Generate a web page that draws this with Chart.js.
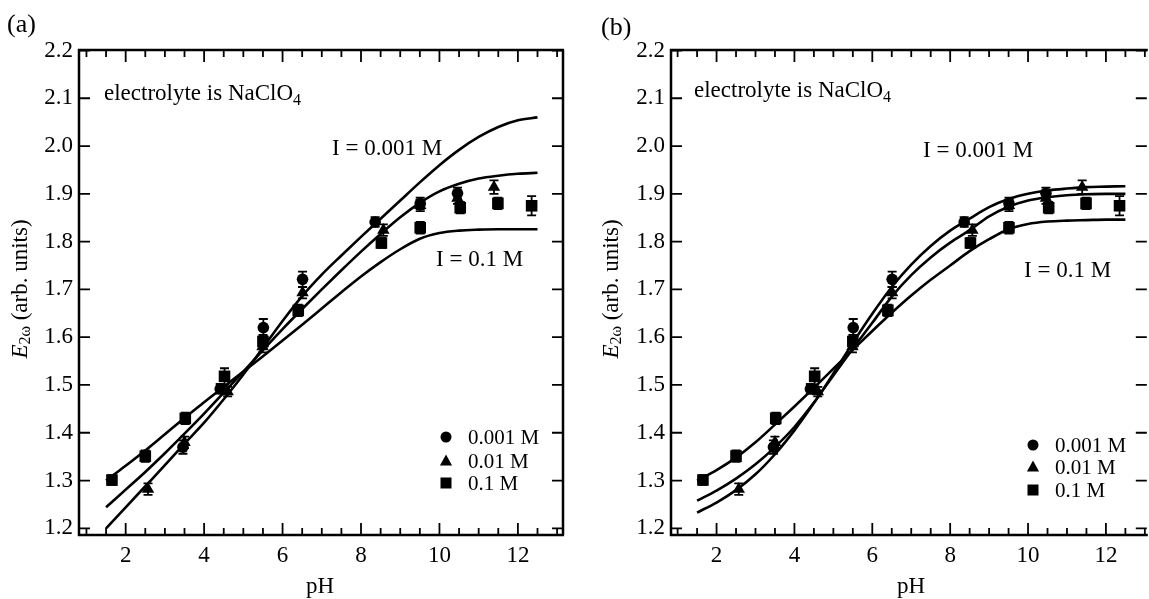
<!DOCTYPE html>
<html>
<head>
<meta charset="utf-8">
<script src="https://cdn.jsdelivr.net/npm/chart.js@4.4.0/dist/chart.umd.min.js"></script>
<style>
html, body { margin: 0; padding: 0; background: #fff; overflow: hidden; width: 1149px; height: 599px; }
.panel { position: absolute; top: 0; height: 599px; overflow: hidden; }
</style>
</head>
<body>
<div class="panel" style="left:0px;width:575px"><canvas id="chartA" width="575" height="599"></canvas></div>
<div class="panel" style="left:575px;width:580px"><canvas id="chartB" width="580" height="599"></canvas></div>
<script>
// measured points (same data in both panels)
var phCircle = [3.46, 4.41, 5.51, 6.51, 8.36, 9.51, 10.46];
var eCircle = [1.370, 1.492, 1.620, 1.721, 1.841, 1.880, 1.901];
var errCircle = [0.014, 0.010, 0.018, 0.016, 0.010, 0.012, 0.012];

var phTriangle = [2.57, 3.50, 4.60, 5.49, 6.51, 8.57, 9.51, 10.46, 11.39];
var eTriangle = [1.282, 1.380, 1.486, 1.580, 1.693, 1.824, 1.876, 1.891, 1.914];
var errTriangle = [0.012, 0.012, 0.010, 0.012, 0.012, 0.012, 0.012, 0.012, 0.014];

var phSquare = [1.65, 2.50, 3.52, 4.52, 5.50, 6.40, 8.52, 9.51, 10.53, 11.49, 12.35];
var eSquare = [1.301, 1.351, 1.430, 1.518, 1.591, 1.656, 1.797, 1.829, 1.871, 1.880, 1.875];
var errSquare = [0.010, 0.012, 0.012, 0.017, 0.014, 0.012, 0.010, 0.012, 0.012, 0.012, 0.020];

// fitted curves
var phFit = [1.5, 2.0, 2.5, 3.0, 3.5, 4.0, 4.5, 5.0, 5.5, 6.0, 6.5, 7.0, 7.5, 8.0, 8.5, 9.0, 9.5, 10.0, 10.5, 11.0, 11.5, 12.0, 12.5];
var fitA001 = [1.200, 1.244, 1.288, 1.332, 1.377, 1.421, 1.470, 1.522, 1.578, 1.634, 1.686, 1.731, 1.771, 1.810, 1.848, 1.886, 1.924, 1.960, 1.992, 2.019, 2.040, 2.054, 2.060];
var fitA01 = [1.244, 1.281, 1.318, 1.357, 1.398, 1.440, 1.484, 1.528, 1.573, 1.617, 1.659, 1.700, 1.740, 1.779, 1.816, 1.851, 1.881, 1.905, 1.921, 1.932, 1.938, 1.942, 1.944];
var fitA1 = [1.300, 1.331, 1.363, 1.397, 1.431, 1.464, 1.496, 1.528, 1.560, 1.593, 1.626, 1.660, 1.694, 1.727, 1.757, 1.784, 1.806, 1.818, 1.823, 1.825, 1.826, 1.826, 1.826];
var fitB001 = [1.233, 1.254, 1.280, 1.313, 1.355, 1.405, 1.462, 1.524, 1.588, 1.649, 1.705, 1.752, 1.791, 1.823, 1.848, 1.872, 1.889, 1.900, 1.907, 1.911, 1.914, 1.915, 1.916];
var fitB01 = [1.258, 1.279, 1.304, 1.334, 1.370, 1.412, 1.463, 1.520, 1.576, 1.630, 1.685, 1.730, 1.767, 1.798, 1.824, 1.853, 1.873, 1.886, 1.893, 1.897, 1.899, 1.900, 1.900];
var fitB1 = [1.300, 1.322, 1.348, 1.380, 1.417, 1.455, 1.494, 1.534, 1.574, 1.613, 1.651, 1.687, 1.720, 1.750, 1.780, 1.805, 1.826, 1.837, 1.842, 1.844, 1.845, 1.846, 1.846];

// axes
var xLabelTicks = [2, 4, 6, 8, 10, 12];
var xTickMarks = [1, 1.5, 2, 2.5, 3, 3.5, 4, 4.5, 5, 5.5, 6, 6.5, 7, 7.5, 8, 8.5, 9, 9.5, 10, 10.5, 11, 11.5, 12, 12.5, 13];
var yTicks = [1.2, 1.3, 1.4, 1.5, 1.6, 1.7, 1.8, 1.9, 2.0, 2.1, 2.2];

var legendLabels = ['0.001 M', '0.01 M', '0.1 M'];
var legendStyles = ['circle', 'triangle', 'rect'];

var SERIF = '"Liberation Serif", "DejaVu Serif", serif';

function pts(xs, ys) {
    return xs.map(function(v, i) { return {x: v, y: ys[i]}; });
}

function drawMarker(ctx, style, x, y, s) {
    ctx.beginPath();
    if (style == 'circle') {
        ctx.arc(x, y, s * 0.5, 0, Math.PI * 2);
    } else if (style == 'triangle') {
        ctx.moveTo(x, y - s * 0.6);
        ctx.lineTo(x + s * 0.55, y + s * 0.4);
        ctx.lineTo(x - s * 0.55, y + s * 0.4);
        ctx.closePath();
    } else {
        ctx.rect(x - s * 0.5, y - s * 0.5, s, s);
    }
    ctx.fill();
}

// text pieces with subscripts / italics
function drawParts(ctx, parts, x, y, align) {
    var total = 0;
    parts.forEach(function(p) {
        ctx.font = (p.italic ? 'italic ' : '') + p.size + 'px ' + SERIF;
        p.w = ctx.measureText(p.t).width;
        total += p.w;
    });
    var cx = align == 'center' ? x - total / 2 : x;
    parts.forEach(function(p) {
        ctx.font = (p.italic ? 'italic ' : '') + p.size + 'px ' + SERIF;
        ctx.fillText(p.t, cx, y + (p.dy || 0));
        cx += p.w;
    });
}

var errorBars = {
    id: 'errorBars',
    afterDatasetsDraw: function(chart) {
        var ctx = chart.ctx, xs = chart.scales.x, ys = chart.scales.y;
        ctx.save();
        ctx.strokeStyle = '#000';
        ctx.lineWidth = 1.8;
        chart.data.datasets.forEach(function(ds) {
            if (!ds.errors) return;
            ds.data.forEach(function(p, i) {
                var px = xs.getPixelForValue(p.x);
                var top = ys.getPixelForValue(p.y + ds.errors[i]);
                var bot = ys.getPixelForValue(p.y - ds.errors[i]);
                ctx.beginPath();
                ctx.moveTo(px, top); ctx.lineTo(px, bot);
                ctx.moveTo(px - 4.5, top); ctx.lineTo(px + 4.5, top);
                ctx.moveTo(px - 4.5, bot); ctx.lineTo(px + 4.5, bot);
                ctx.stroke();
            });
        });
        ctx.restore();
    }
};

var frameAndText = {
    id: 'frameAndText',
    afterDraw: function(chart) {
        var ctx = chart.ctx, a = chart.chartArea;
        var xs = chart.scales.x, ys = chart.scales.y;
        var t = chart.options.plugins.frameAndText;
        ctx.save();
        ctx.strokeStyle = '#000';
        ctx.fillStyle = '#000';
        ctx.lineWidth = 2.5;
        ctx.beginPath();
        ctx.moveTo(a.right + 1, a.top); ctx.lineTo(a.left, a.top);
        ctx.lineTo(a.left, a.bottom); ctx.lineTo(a.right + 1, a.bottom);
        if (t.rightEdge) { ctx.moveTo(a.right, a.top); ctx.lineTo(a.right, a.bottom); }
        ctx.stroke();

        // inward tick marks on all four sides
        ctx.lineWidth = 1.8;
        ctx.beginPath();
        xTickMarks.forEach(function(v) {
            var px = xs.getPixelForValue(v);
            if (px < a.left || px > a.right) return;
            var len = xLabelTicks.indexOf(v) >= 0 ? 12 : 7;
            ctx.moveTo(px, a.bottom); ctx.lineTo(px, a.bottom - len);
            ctx.moveTo(px, a.top); ctx.lineTo(px, a.top + len);
        });
        yTicks.forEach(function(v) {
            var py = ys.getPixelForValue(v);
            ctx.moveTo(a.left, py); ctx.lineTo(a.left + 11, py);
            ctx.moveTo(a.right, py); ctx.lineTo(a.right - 11, py);
        });
        ctx.stroke();

        ctx.textBaseline = 'alphabetic';
        ctx.textAlign = 'left';
        drawParts(ctx, [{t: t.panel, size: 26}], t.panelX, t.panelY);
        drawParts(ctx, [{t: 'electrolyte is NaClO', size: 23}, {t: '4', size: 16, dy: 5}], t.elX, t.elY);
        drawParts(ctx, [{t: 'I = 0.001 M', size: 23}], t.hiX, t.hiY);
        drawParts(ctx, [{t: 'I = 0.1 M', size: 23}], t.loX, t.loY);

        // legend inside the plot
        legendLabels.forEach(function(lab, i) {
            drawMarker(ctx, legendStyles[i], t.legX, t.legY[i], 11);
            ctx.textBaseline = 'middle';
            drawParts(ctx, [{t: lab, size: 21}], t.legX + 22, t.legY[i] + 1);
        });

        // axis titles
        ctx.textBaseline = 'middle';
        drawParts(ctx, [{t: 'pH', size: 23}], t.phX, 587, 'center');
        ctx.translate(t.ytX, t.ytY);
        ctx.rotate(-Math.PI / 2);
        drawParts(ctx, [{t: 'E', size: 23, italic: true}, {t: '2\u03c9', size: 16, dy: 5}, {t: ' (arb. units)', size: 23}], 0, 0, 'center');
        ctx.restore();
    }
};

function makePanel(id, geo, fits, txt) {
    var ctx = document.getElementById(id).getContext('2d');
    var lineDs = function(vals) {
        return {
            type: 'line', data: pts(phFit, vals), borderColor: '#000', borderWidth: 2.6,
            pointRadius: 0, fill: false, cubicInterpolationMode: 'monotone', order: 2
        };
    };
    return new Chart(ctx, {
        type: 'scatter',
        data: {
            datasets: [
                lineDs(fits[0]), lineDs(fits[1]), lineDs(fits[2]),
                {label: '0.001 M', data: pts(phCircle, eCircle), errors: errCircle, pointStyle: 'circle',
                 pointRadius: 5.8, backgroundColor: '#000', borderColor: '#000', borderWidth: 0, order: 1},
                {label: '0.01 M', data: pts(phTriangle, eTriangle), errors: errTriangle, pointStyle: 'triangle',
                 pointRadius: 7.2, backgroundColor: '#000', borderColor: '#000', borderWidth: 0, order: 1},
                {label: '0.1 M', data: pts(phSquare, eSquare), errors: errSquare, pointStyle: 'rect',
                 pointRadius: 8.2, backgroundColor: '#000', borderColor: '#000', borderWidth: 0, order: 1}
            ]
        },
        options: {
            responsive: false,
            animation: false,
            layout: { padding: { left: 0, right: geo.padRight, top: 50, bottom: 0 } },
            scales: {
                x: {
                    type: 'linear', min: geo.xMin, max: geo.xMax,
                    afterBuildTicks: function(s) { s.ticks = xLabelTicks.map(function(v) { return {value: v}; }); },
                    afterFit: function(s) { s.height = 64; },
                    grid: { display: false, drawTicks: false }, border: { display: false },
                    ticks: { autoSkip: false, maxRotation: 0, padding: 7, color: '#000',
                             font: { family: SERIF, size: 23 } }
                },
                y: {
                    type: 'linear', min: 1.186, max: 2.201,
                    afterBuildTicks: function(s) { s.ticks = yTicks.map(function(v) { return {value: v}; }); },
                    afterFit: function(s) { s.width = geo.yWidth; },
                    grid: { display: false, drawTicks: false }, border: { display: false },
                    ticks: { padding: 6, color: '#000', font: { family: SERIF, size: 23 },
                             callback: function(v) { return v.toFixed(1); } }
                }
            },
            plugins: {
                legend: { display: false },
                tooltip: { enabled: false },
                frameAndText: txt
            }
        },
        plugins: [errorBars, frameAndText]
    });
}

makePanel('chartA', {xMin: 0.81, xMax: 13.15, padRight: 12, yWidth: 79},
    [fitA001, fitA01, fitA1],
    {panel: '(a)', panelX: 7, panelY: 32, elX: 104, elY: 100, hiX: 332, hiY: 155, loX: 436, loY: 266,
     legX: 446, legY: [437, 461, 483], ytX: 21, ytY: 289, phX: 320, rightEdge: true});

// panel (b) is cut by the page edge in the original scan: no right frame line
makePanel('chartB', {xMin: 0.83, xMax: 13.05, padRight: 4, yWidth: 96},
    [fitB001, fitB01, fitB1],
    {panel: '(b)', panelX: 26, panelY: 35, elX: 119, elY: 97, hiX: 348, hiY: 157, loX: 449, loY: 277,
     legX: 458, legY: [445, 467, 490], ytX: 37, ytY: 289, phX: 336, rightEdge: false});
</script>
</body>
</html>
